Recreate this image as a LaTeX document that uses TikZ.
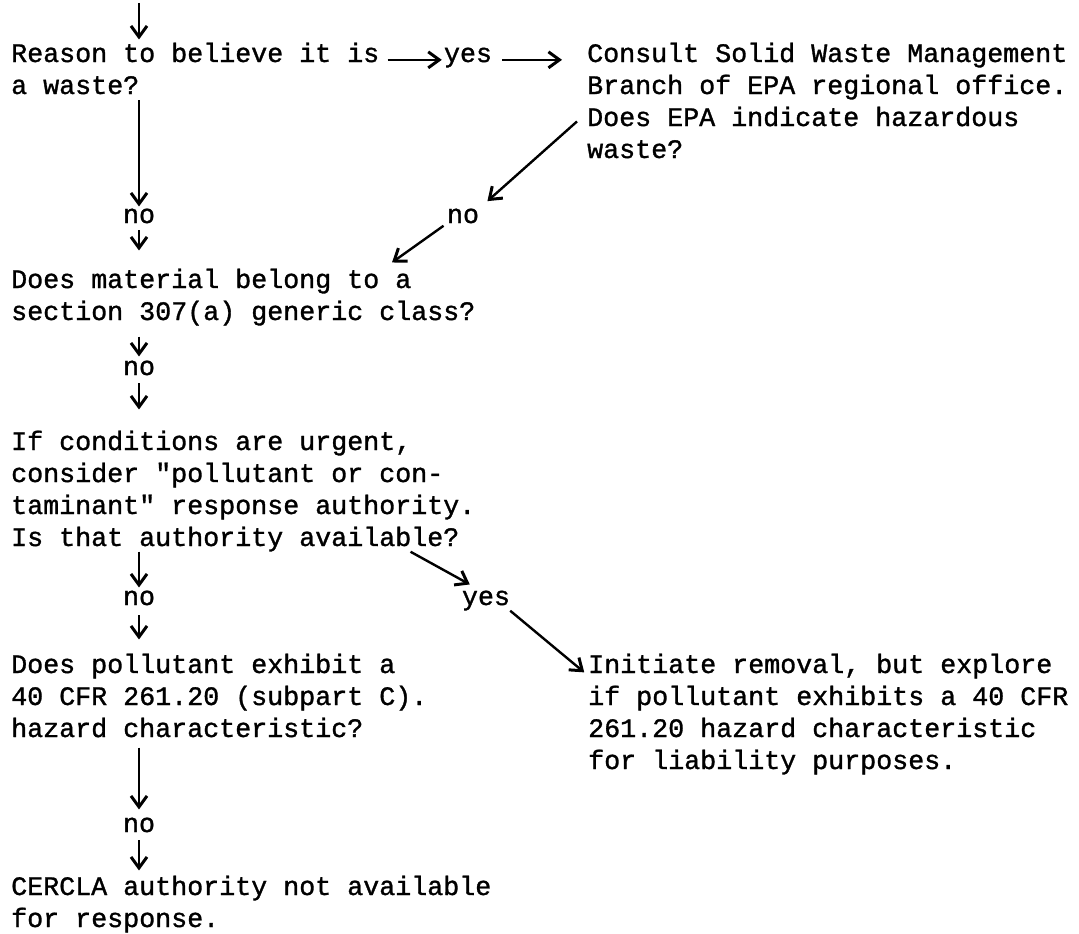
\documentclass[tikz,border=0pt]{standalone}
\usepackage{fontspec}
\newfontfamily\twfont{Liberation Mono}[FakeBold=1.2]
\usepackage{tikz}
\usetikzlibrary{arrows.meta}
\newcommand{\tw}{\twfont\fontsize{26.67}{32}\selectfont}
\tikzset{
  txt/.style={anchor=base west, inner sep=0pt, align=left, font=\tw},
  lbl/.style={anchor=base, inner sep=0pt, font=\tw},
  go/.style={-{Straight Barb[length=11pt,width=16pt,line width=3pt]}, line width=2.4pt}
}
\begin{document}
\begin{tikzpicture}[x=1pt,y=-1pt]
\useasboundingbox (0,0) rectangle (1079,934);
\coordinate (top) at (139,3);
\node[txt] (reason) at (11,94) {Reason to believe it is\\a waste?};
\node[lbl] (yes1) at (468,62) {yes};
\node[txt] (consult) at (587,158) {Consult Solid Waste Management\\Branch of EPA regional office.\\Does EPA indicate hazardous\\waste?};
\node[lbl] (no1) at (139,223) {no};
\node[lbl] (no2) at (463,223) {no};
\node[txt] (material) at (11,320) {Does material belong to a\\section 307(a) generic class?};
\node[lbl] (no3) at (139,375) {no};
\node[txt] (urgent) at (11,546) {If conditions are urgent,\\consider "pollutant or con-\\taminant" response authority.\\Is that authority available?};
\node[lbl] (no4) at (139,605) {no};
\node[lbl] (yes2) at (486,605) {yes};
\node[txt] (pollutant) at (11,737) {Does pollutant exhibit a\\40 CFR 261.20 (subpart C).\\hazard characteristic?};
\node[txt] (initiate) at (588,769) {Initiate removal, but explore\\if pollutant exhibits a 40 CFR\\261.20 hazard characteristic\\for liability purposes.};
\node[lbl] (no5) at (139,832) {no};
\node[txt] (cercla) at (11,927) {CERCLA authority not available\\for response.};

\draw[go, shorten >=3pt] (top) -- (reason.north -| top);
\draw[go, shorten <=8pt, shorten >=2pt] (reason.east |- yes1.mid) -- (yes1.mid west);
\draw[go, shorten <=10pt, shorten >=25pt] (yes1.mid east) -- (consult.west |- yes1.mid);
\draw[go, shorten <=6pt, shorten >=2pt] (reason.south -| no1) -- (no1.north);
\draw[go, shorten <=7pt, shorten >=18pt] (no1.south) -- (material.north -| no1);
\draw[go, shorten >=11pt] ([shift={(-10,21)}]consult.west) -- (no2.north east);
\draw[go, shorten <=4pt] (no2.south west) -- ([shift={(381,-6)}]material.north west);
\draw[go, shorten <=11pt, shorten >=4pt] (material.south -| no3) -- (no3.north);
\draw[go, shorten <=8pt, shorten >=21pt] (no3.south) -- (urgent.north -| no3);
\draw[go, shorten >=3pt] (urgent.south -| no4) -- (no4.north);
\draw[go, shorten <=10pt, shorten >=14pt] (no4.south) -- (pollutant.north -| no4);
\draw[go] ([shift={(-65,0)}]urgent.south east) -- ([shift={(8,-6)}]yes2.north west);
\draw[go, shorten >=1pt] (yes2.south east) -- ([shift={(-3,-96)}]initiate.base west);
\draw[go, shorten <=10pt, shorten >=8pt] (pollutant.south -| no5) -- (no5.north);
\draw[go, shorten <=8pt, shorten >=5pt] (no5.south) -- (cercla.north -| no5);
\end{tikzpicture}
\end{document}
